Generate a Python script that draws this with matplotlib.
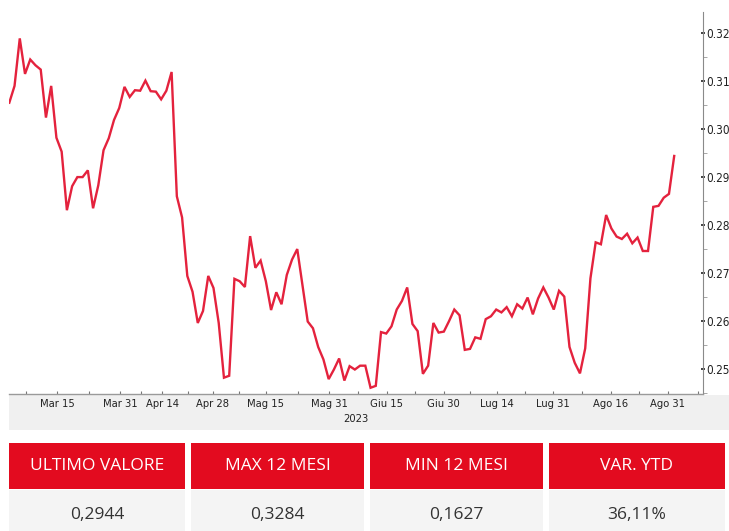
import matplotlib
matplotlib.use('Agg')
import matplotlib.pyplot as plt
from matplotlib.patches import Rectangle
from matplotlib.ticker import MultipleLocator, FormatStrFormatter
import numpy as np

# prezzo giornaliero (mar - ago 2023)
prices = [0.3055, 0.3090, 0.3189, 0.3115, 0.3145, 0.3133, 0.3124, 0.3024, 0.3090, 0.2982,
          0.2953, 0.2831, 0.2881, 0.2900, 0.2900, 0.2914, 0.2835, 0.2883, 0.2956, 0.2981,
          0.3019, 0.3044, 0.3088, 0.3067, 0.3081, 0.3080, 0.3101, 0.3079, 0.3078, 0.3062,
          0.3080, 0.3119, 0.2860, 0.2816, 0.2694, 0.2661, 0.2596, 0.2621, 0.2694, 0.2669,
          0.2596, 0.2482, 0.2486, 0.2688, 0.2683, 0.2671, 0.2777, 0.2711, 0.2726, 0.2683,
          0.2623, 0.2660, 0.2635, 0.2696, 0.2728, 0.2750, 0.2675, 0.2599, 0.2585, 0.2546,
          0.2520, 0.2479, 0.2499, 0.2522, 0.2476, 0.2506, 0.2499, 0.2507, 0.2507, 0.2461,
          0.2465, 0.2577, 0.2574, 0.2589, 0.2624, 0.2642, 0.2670, 0.2594, 0.2579, 0.2490,
          0.2507, 0.2596, 0.2576, 0.2578, 0.2600, 0.2624, 0.2612, 0.2540, 0.2542, 0.2566,
          0.2563, 0.2604, 0.2610, 0.2624, 0.2618, 0.2629, 0.2610, 0.2635, 0.2626, 0.2649,
          0.2614, 0.2647, 0.2670, 0.2649, 0.2624, 0.2663, 0.2651, 0.2546, 0.2513, 0.2491,
          0.2543, 0.2689, 0.2764, 0.2760, 0.2821, 0.2793, 0.2776, 0.2771, 0.2782, 0.2762,
          0.2774, 0.2746, 0.2746, 0.2838, 0.2840, 0.2857, 0.2865, 0.2944]

tick_pos = [9.1, 21.2, 29.2, 38.9, 49.0, 61.1, 72.1, 83.0, 93.1, 103.8, 114.9, 125.8]
tick_labels = ['Mar 15', 'Mar 31', 'Apr 14', 'Apr 28', 'Mag 15', 'Mag 31',
               'Giu 15', 'Giu 30', 'Lug 14', 'Lug 31', 'Ago 16', 'Ago 31']

headers = ['ULTIMO VALORE', 'MAX 12 MESI', 'MIN 12 MESI', 'VAR. YTD']
values = ['0,2944', '0,3284', '0,1627', '36,11%']

red = '#e30b1f'
W, H = 729, 531

fig = plt.figure(figsize=(W / 100, H / 100), dpi=100)
ax = fig.add_axes([9.3 / W, (H - 394) / H, 693.7 / W, 382 / H])

x = np.arange(len(prices))
ax.plot(x, prices, color='#e4223d', lw=1.7, solid_joinstyle='miter')
ax.set_xlim(0, 132.5)
ax.set_ylim(0.2448, 0.3244)

for s in ['top', 'left']:
    ax.spines[s].set_visible(False)
ax.spines['right'].set_color('#8a8a8a')
ax.spines['bottom'].set_color('#9a9a9a')
ax.spines['right'].set_linewidth(0.8)
ax.spines['bottom'].set_linewidth(1.0)

ax.yaxis.tick_right()
ax.yaxis.set_major_locator(MultipleLocator(0.01))
ax.yaxis.set_minor_locator(MultipleLocator(0.005))
ax.yaxis.set_major_formatter(FormatStrFormatter('%.2f'))
ax.tick_params(axis='y', which='major', length=3, width=1.2, color='#222222',
               direction='inout', labelsize=8.5, pad=1, labelcolor='#222222')
ax.tick_params(axis='y', which='minor', length=3, width=0.6, color='#999999', direction='out')

minor_x = [3.2] + [(a + b) / 2 for a, b in zip(tick_pos[:-1], tick_pos[1:])] + [131.5]
ax.set_xticks(tick_pos)
ax.set_xticklabels(tick_labels)
ax.set_xticks(minor_x, minor=True)
ax.tick_params(axis='x', which='both', length=2.5, width=0.8, color='#777777',
               direction='in', labelsize=8, pad=3.5, labelcolor='#222222')

for lab in ax.get_xticklabels() + ax.get_yticklabels():
    lab.set_family('DejaVu Sans')
    lab.set_stretch('condensed')

# banda grigia sotto l'asse x
fig.add_artist(Rectangle((9 / W, (H - 430) / H), (W - 9) / W, 35 / H,
                         transform=fig.transFigure, facecolor='#f0f0f0',
                         edgecolor='none', zorder=-1))
fig.text(355.7 / W, (H - 419) / H, '2023', ha='center', va='center',
         fontsize=8, color='#222222', family='DejaVu Sans', stretch='condensed')

# tabella riepilogo
cols = [(9, 185), (191, 364), (370, 543), (549, 725)]
for (x0, x1), h, v in zip(cols, headers, values):
    fig.add_artist(Rectangle((x0 / W, (H - 489) / H), (x1 - x0) / W, 46 / H,
                             transform=fig.transFigure, facecolor=red, edgecolor='none'))
    fig.add_artist(Rectangle((x0 / W, 0), (x1 - x0) / W, (H - 490) / H,
                             transform=fig.transFigure, facecolor='#f4f4f4', edgecolor='none'))
    xc = (x0 + x1) / 2 / W
    fig.text(xc, (H - 466) / H, h, ha='center', va='center', color='white',
             fontsize=12.5, family='Open Sans')
    fig.text(xc, (H - 515) / H, v, ha='center', va='center', color='#333333',
             fontsize=12.5, family='Open Sans')

fig.savefig('out.png', dpi=100)
